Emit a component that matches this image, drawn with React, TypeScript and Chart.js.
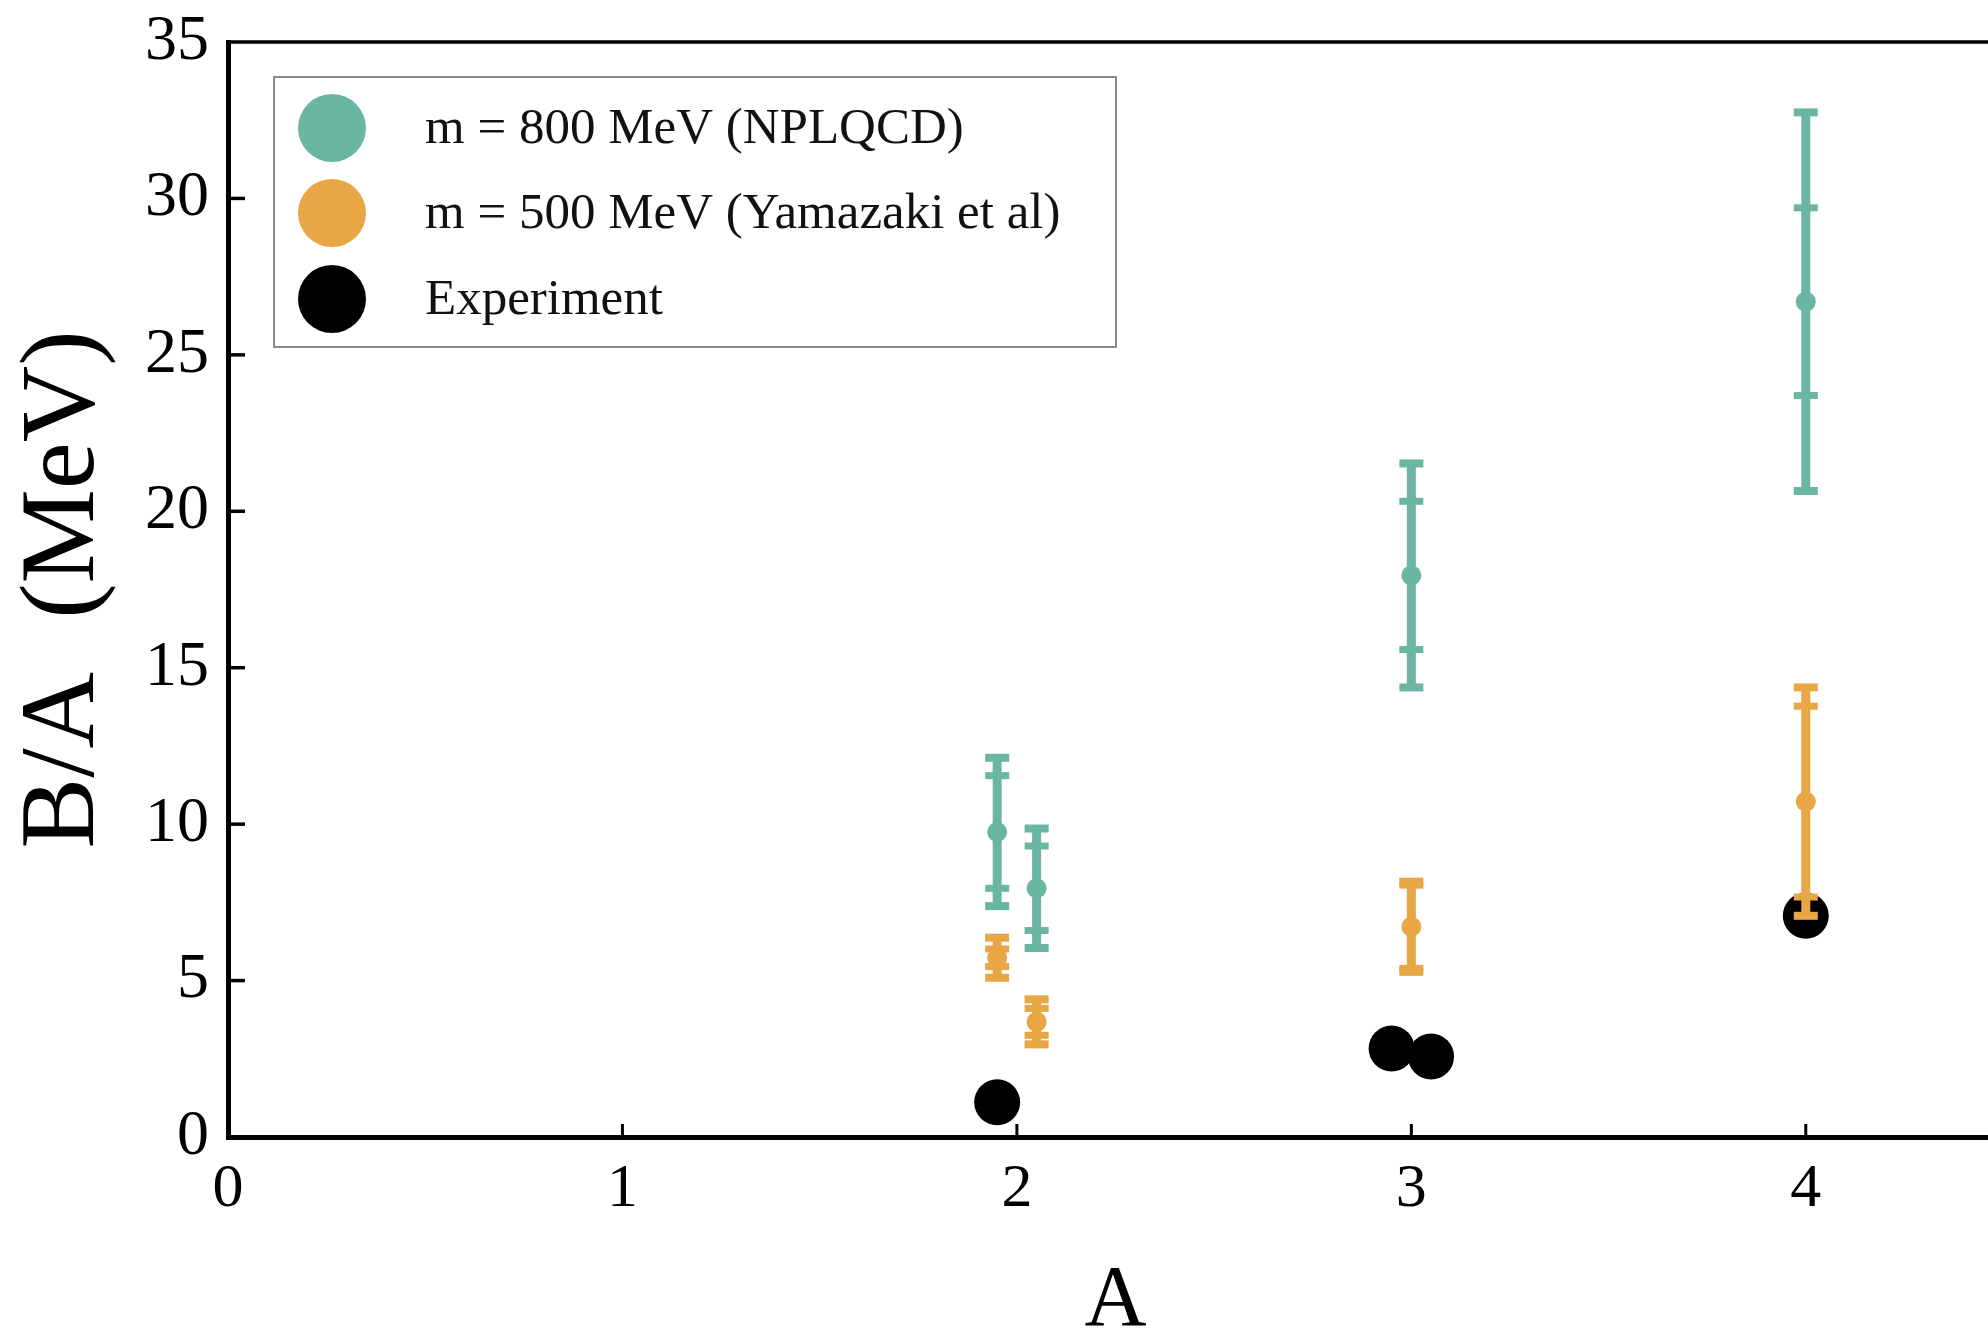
import React, { useEffect, useRef } from "react";
import { Chart, registerables } from "chart.js";

Chart.register(...registerables);

// ---- data ----
const nplqcdA = [1.95, 2.05, 3, 4];
const nplqcdBA = [9.75, 7.95, 17.95, 26.7];
const nplqcdInnerErr = [1.8, 1.35, 2.37, 3.0];
const nplqcdOuterErr = [2.37, 1.91, 3.58, 6.05];

const yamazakiA = [1.95, 2.05, 3, 4];
const yamazakiBA = [5.73, 3.68, 6.72, 10.72];
const yamazakiInnerErr = [0.28, 0.43, 1.33, 3.05];
const yamazakiOuterErr = [0.64, 0.72, 1.44, 3.65];

const experimentA = [1.95, 2.95, 3.05, 4];
const experimentBA = [1.11, 2.83, 2.57, 7.07];

const seriesLabels = [
  "m = 800 MeV (NPLQCD)",
  "m = 500 MeV (Yamazaki et al)",
  "Experiment",
];
const xTickValues = [1, 2, 3, 4];
const yTickValues = [5, 10, 15, 20, 25, 30];

// ---- styles ----
const TEAL = "rgb(107,181,163)";
const ORANGE = "rgb(232,166,69)";
const FONT = "'Liberation Serif', 'Times New Roman', serif";

const toPoints = (xs: number[], ys: number[]) => xs.map((x, i) => ({ x, y: ys[i] }));

const framePlugin = {
  id: "frame",
  beforeDatasetsDraw(chart: any) {
    const { ctx, chartArea, scales } = chart;
    const x = scales.x;
    const y = scales.y;
    ctx.save();
    ctx.strokeStyle = "#000";
    ctx.lineWidth = 3.5;
    ctx.beginPath();
    ctx.moveTo(chartArea.left, chartArea.top);
    ctx.lineTo(chartArea.right + 10, chartArea.top);
    ctx.stroke();
    ctx.lineWidth = 3.5;
    yTickValues.forEach((v) => {
      const py = y.getPixelForValue(v);
      ctx.beginPath();
      ctx.moveTo(chartArea.left, py);
      ctx.lineTo(chartArea.left + 17, py);
      ctx.stroke();
    });
    ctx.lineWidth = 3;
    xTickValues.forEach((v) => {
      const px = x.getPixelForValue(v);
      ctx.beginPath();
      ctx.moveTo(px, chartArea.bottom);
      ctx.lineTo(px, chartArea.bottom - 13);
      ctx.stroke();
    });
    ctx.restore();
  },
};

const errorBarPlugin = {
  id: "errorBars",
  afterDatasetsDraw(chart: any) {
    const { ctx, scales } = chart;
    const x = scales.x;
    const y = scales.y;
    chart.data.datasets.forEach((ds: any) => {
      if (!ds.innerErr) return;
      ctx.save();
      ctx.strokeStyle = ds.backgroundColor;
      ctx.fillStyle = ds.backgroundColor;
      ds.data.forEach((p: any, j: number) => {
        const px = x.getPixelForValue(p.x);
        const top = y.getPixelForValue(p.y + ds.outerErr[j]);
        const bot = y.getPixelForValue(p.y - ds.outerErr[j]);
        const itop = y.getPixelForValue(p.y + ds.innerErr[j]);
        const ibot = y.getPixelForValue(p.y - ds.innerErr[j]);
        ctx.lineWidth = 9;
        ctx.beginPath();
        ctx.moveTo(px, top);
        ctx.lineTo(px, bot);
        ctx.stroke();
        const capW = 24;
        ctx.fillRect(px - capW / 2, top - 4, capW, 8);
        ctx.fillRect(px - capW / 2, bot - 4, capW, 8);
        ctx.fillRect(px - capW / 2, itop - 3.5, capW, 7);
        ctx.fillRect(px - capW / 2, ibot - 3.5, capW, 7);
      });
      ctx.restore();
    });
  },
};

const legendPlugin = {
  id: "customLegend",
  afterDraw(chart: any) {
    const { ctx, chartArea } = chart;
    const left = chartArea.left + 46;
    const top = chartArea.top + 35;
    const w = 842;
    const h = 270;
    ctx.save();
    ctx.fillStyle = "#fff";
    ctx.fillRect(left, top, w, h);
    ctx.strokeStyle = "#8a8a8a";
    ctx.lineWidth = 2;
    ctx.strokeRect(left, top, w, h);
    ctx.font = `51px ${FONT}`;
    ctx.textBaseline = "middle";
    ctx.textAlign = "left";
    const rows = [51, 136, 222];
    chart.data.datasets.forEach((ds: any, i: number) => {
      const cy = top + rows[i];
      ctx.fillStyle = ds.backgroundColor;
      ctx.beginPath();
      ctx.arc(left + 58, cy, 34, 0, Math.PI * 2);
      ctx.fill();
      ctx.fillStyle = "#111";
      ctx.fillText(ds.label, left + 151, cy + 2);
    });
    ctx.restore();
  },
};

export default function App() {
  const ref = useRef<HTMLCanvasElement>(null);
  useEffect(() => {
    if (!ref.current) return;
    const chart = new Chart(ref.current, {
      type: "scatter",
      data: {
        datasets: [
          {
            label: seriesLabels[0],
            data: toPoints(nplqcdA, nplqcdBA),
            backgroundColor: TEAL,
            borderColor: TEAL,
            pointRadius: 10,
            borderWidth: 0,
            innerErr: nplqcdInnerErr,
            outerErr: nplqcdOuterErr,
          } as any,
          {
            label: seriesLabels[1],
            data: toPoints(yamazakiA, yamazakiBA),
            backgroundColor: ORANGE,
            borderColor: ORANGE,
            pointRadius: 10,
            borderWidth: 0,
            innerErr: yamazakiInnerErr,
            outerErr: yamazakiOuterErr,
          } as any,
          {
            label: seriesLabels[2],
            data: toPoints(experimentA, experimentBA),
            backgroundColor: "#000",
            borderColor: "#000",
            pointRadius: 23,
            borderWidth: 0,
          },
        ],
      },
      options: {
        animation: false,
        responsive: false,
        events: [],
        layout: { autoPadding: false, padding: { top: 42, left: 0, right: 0, bottom: 0 } },
        plugins: {
          legend: { display: false },
          tooltip: { enabled: false },
        },
        scales: {
          x: {
            type: "linear",
            min: 0,
            max: 4.5,
            afterFit: (s: any) => {
              s.height = 198;
              s.paddingLeft = 0;
              s.paddingRight = 0;
            },
            grid: { display: false, drawTicks: false },
            border: { display: true, color: "#000", width: 5 },
            ticks: {
              stepSize: 1,
              includeBounds: false,
              autoSkip: false,
              maxRotation: 0,
              padding: 16,
              color: "#000",
              font: { family: FONT, size: 62 },
            },
            title: {
              display: true,
              text: "A",
              color: "#000",
              font: { family: FONT, size: 86, lineHeight: 0.75 },
              padding: 0,
            },
          },
          y: {
            type: "linear",
            min: 0,
            max: 35,
            afterFit: (s: any) => {
              s.width = 228;
              s.paddingTop = 0;
              s.paddingBottom = 0;
            },
            grid: { display: false, drawTicks: false },
            border: { display: true, color: "#000", width: 5 },
            ticks: {
              stepSize: 5,
              padding: 19,
              color: "#000",
              font: { family: FONT, size: 64 },
            },
            title: {
              display: true,
              text: "B/A  (MeV)",
              color: "#000",
              font: { family: FONT, size: 106, lineHeight: 1.2 },
              padding: { top: 2, bottom: 0 },
            },
          },
        },
      },
      plugins: [framePlugin, errorBarPlugin, legendPlugin],
    } as any);
    return () => chart.destroy();
  }, []);

  return (
    <div
      style={{
        position: "absolute",
        left: 0,
        top: 0,
        width: 1988,
        height: 1335,
        overflow: "hidden",
        background: "#fff",
      }}
    >
      <canvas ref={ref} width={2003} height={1335} style={{ display: "block" }} />
    </div>
  );
}
